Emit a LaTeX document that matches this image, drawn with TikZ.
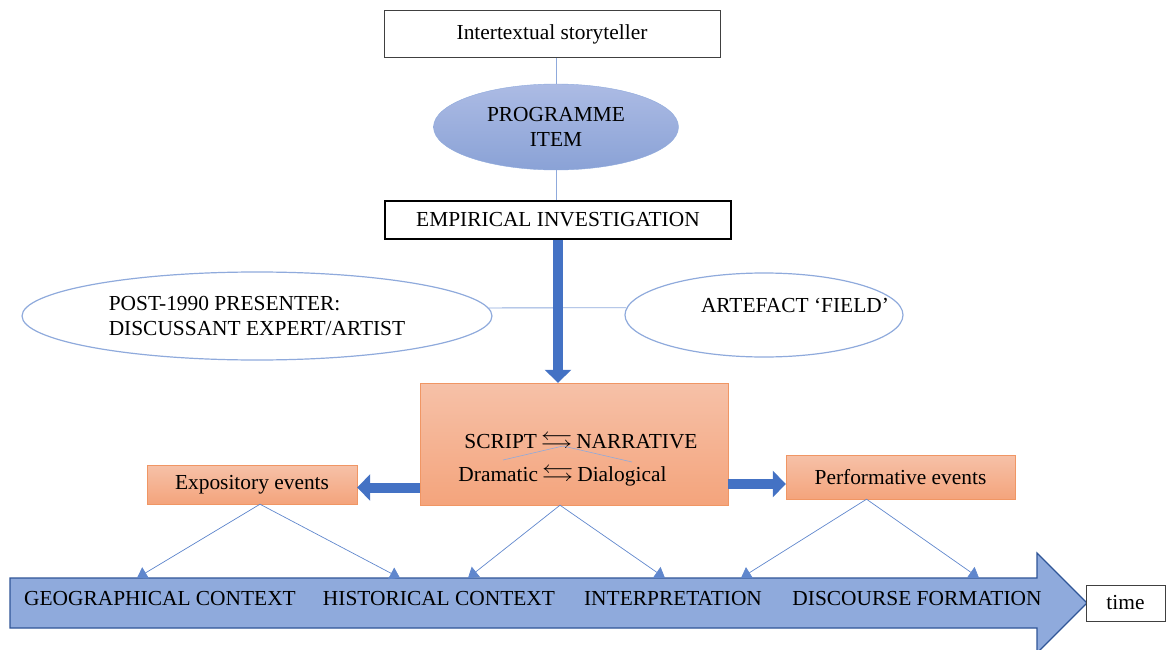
\documentclass[tikz,border=0pt]{standalone}
\usepackage{fontspec}
\setmainfont{Liberation Serif}
\usepackage{amssymb}
\usetikzlibrary{arrows.meta,shapes.geometric}
\definecolor{myblue}{RGB}{68,114,196}
\definecolor{mydarkblue}{RGB}{47,85,151}
\definecolor{mylightblue}{RGB}{143,170,220}
\definecolor{myorange}{RGB}{240,150,100}
\definecolor{ortop}{RGB}{246,193,168}
\definecolor{orbot}{RGB}{244,164,124}
\definecolor{ovtop}{RGB}{172,187,228}
\definecolor{ovbot}{RGB}{138,162,214}
\newcommand{\swap}{\,\scalebox{1.5}[1.15]{$\leftrightarrows$}\,}
\begin{document}
\begin{tikzpicture}[x=1pt,y=-1pt,
    every node/.style={font=\fontsize{21.4}{24.5}\selectfont, inner sep=0pt},
    box/.style={rectangle, draw=black!75, fill=white},
    oval/.style={ellipse, draw=mylightblue, line width=1.2pt, fill=white},
    evbox/.style={rectangle, draw=myorange, top color=ortop, bottom color=orbot},
    bigarrow/.style={line width=10pt, myblue, -{Triangle[length=13pt,width=26pt]}},
    link/.style={mylightblue, line width=0.8pt},
    thinarrow/.style={myblue!85, line width=0.7pt, -{Triangle[length=10pt,width=13pt]}}]
    \useasboundingbox (0,0) rectangle (1173,650);
        % time line
        \filldraw[fill=mylightblue, draw=mydarkblue, line width=1.2pt] (10,578) -- (1037,578) -- (1037,553) -- (1087,603) -- (1037,653) -- (1037,628) -- (10,628) -- cycle;
        \node (geo) at (160,599) {GEOGRAPHICAL CONTEXT};
        \node (hist) at (439,599) {HISTORICAL CONTEXT};
        \node (interp) at (673,599) {INTERPRETATION};
        \node (disc) at (917,599) {DISCOURSE FORMATION};
        \node[box, minimum width=79pt, minimum height=36pt] (time) at (1125.5,603) {time};
        \coordinate (g1) at (137,578);
        \coordinate (g2) at (400,578);
        \coordinate (h1) at (468,578);
        \coordinate (h2) at (665,578);
        \coordinate (d1) at (741,578);
        \coordinate (d2) at (979,578);
        % top
        \node[box, minimum width=336pt, minimum height=47pt] (story) at (552,34) {Intertextual storyteller};
        \node[ellipse, draw=mylightblue, top color=ovtop, bottom color=ovbot, minimum width=245pt, minimum height=86pt, align=center] (prog) at (556,127) {PROGRAMME\\ITEM};
        \node[box, draw=black, line width=1.5pt, minimum width=346pt, minimum height=38pt] (emp) at (558,220) {EMPIRICAL INVESTIGATION};
        \draw[link] (prog.north) -- (prog.north |- story.south);
        \draw[link] (prog.south) -- (prog.south |- emp.north);
        \node[oval, minimum width=470pt, minimum height=88pt, align=left] (post) at (257,316) {POST-1990 PRESENTER:\\DISCUSSANT EXPERT/ARTIST};
        \node[oval, minimum width=278pt, minimum height=84pt, label={[xshift=31pt,yshift=10pt]center:ARTEFACT ‘FIELD’}] (field) at (764,315) {};
        \draw[link] (post.2) -- (field.177);
        % events
        \node[evbox, minimum width=308pt, minimum height=122pt, label={[align=left,xshift=4pt,yshift=-15pt]center:{\hspace{6pt}SCRIPT\swap NARRATIVE\\[9pt]Dramatic\swap Dialogical}}] (core) at (574,444) {};
        \draw[link, line width=0.6pt] (503,460) -- (563,446) -- (632,462);
        \node[evbox, minimum width=210pt, minimum height=39pt] (expo) at (252,484.5) {Expository events};
        \node[evbox, minimum width=229pt, minimum height=44pt] (perf) at (900.5,477) {Performative events};
        \coordinate (rgt) at ([yshift=-7pt]perf.west);
        \draw[bigarrow] (emp.south) -- (emp.south |- core.north);
        \draw[bigarrow] ([yshift=-3pt]expo.east -| core.west) -- ([yshift=-3pt]expo.east);
        \draw[bigarrow] (rgt -| core.east) -- (rgt);
        \draw[thinarrow] ([xshift=8pt]expo.south) -- (g1);
        \draw[thinarrow] ([xshift=8pt]expo.south) -- (g2);
        \draw[thinarrow] ([xshift=-14pt]core.south) -- (h1);
        \draw[thinarrow] ([xshift=-14pt]core.south) -- (h2);
        \draw[thinarrow] ([xshift=-34pt]perf.south) -- (d1);
        \draw[thinarrow] ([xshift=-34pt]perf.south) -- (d2);
    \end{tikzpicture}
\end{document}
